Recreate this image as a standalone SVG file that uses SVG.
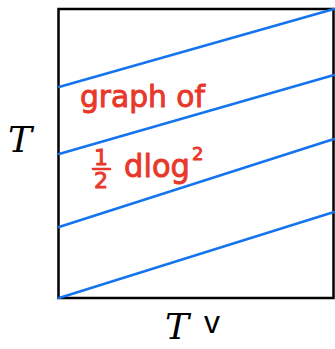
<svg xmlns="http://www.w3.org/2000/svg" width="335" height="349" viewBox="0 0 335 349">
  <style>
    .frame { fill: #ffffff; stroke: #000000; stroke-width: 2.5; }
    .blue { stroke: #1474ee; stroke-width: 2.5; stroke-linecap: round; fill: none; }
    .red { fill: #e8382a; stroke: #e8382a; stroke-width: 0.9; font-family: "DejaVu Sans", "Liberation Sans", sans-serif; }
    .blk { fill: #000000; font-family: "DejaVu Serif", "Liberation Serif", serif; font-style: italic; }
  </style>
  <rect width="335" height="349" fill="#ffffff"/>
  <g id="frame">
    <rect class="frame" x="58.5" y="9" width="275" height="289"/>
  </g>
  <g id="lines">
    <line class="blue" x1="59" y1="87" x2="334" y2="9"/>
    <line class="blue" x1="59" y1="154" x2="334" y2="75"/>
    <line class="blue" x1="59" y1="227" x2="334" y2="139"/>
    <line class="blue" x1="59" y1="298" x2="334" y2="212"/>
  </g>
  <g id="label">
    <text class="red" x="80" y="107" font-size="30" textLength="125" lengthAdjust="spacingAndGlyphs">graph of</text>
    <text class="red" x="94" y="165" font-size="22">1</text>
    <line x1="93" y1="169" x2="110" y2="169" stroke="#e8382a" stroke-width="2.5" stroke-linecap="round"/>
    <text class="red" x="94" y="188" font-size="22">2</text>
    <text class="red" x="124" y="177" font-size="32" textLength="66" lengthAdjust="spacingAndGlyphs">dlog</text>
    <text class="red" x="192" y="160" font-size="18">2</text>
  </g>
  <g id="axis-T">
    <text class="blk" x="8" y="152" font-size="36">T</text>
  </g>
  <g id="axis-Tdual">
    <text class="blk" x="165" y="339" font-size="36">T</text>
    <text x="204" y="333" font-size="32" fill="#000000" font-family="Liberation Sans, sans-serif">v</text>
  </g>
</svg>
